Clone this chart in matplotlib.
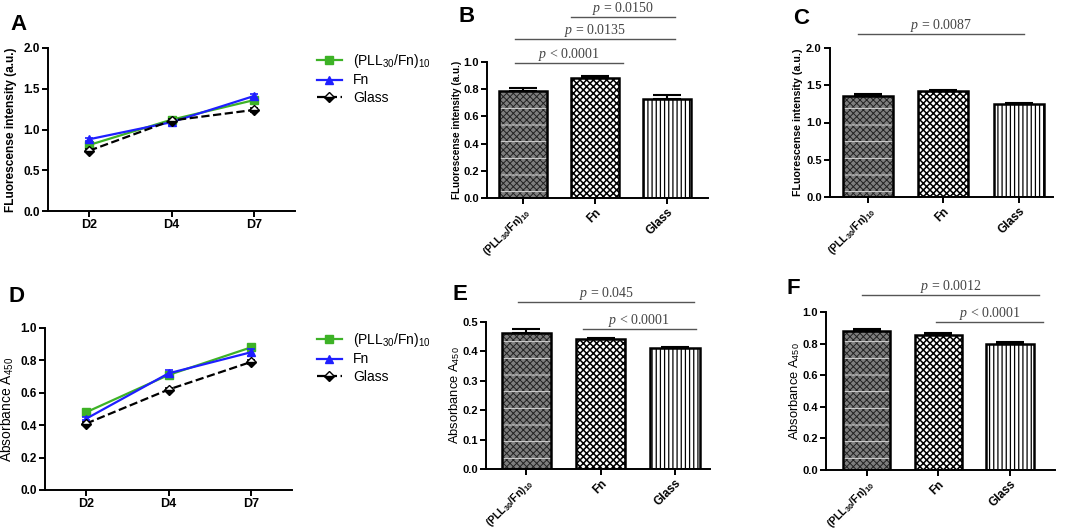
import matplotlib
matplotlib.use('Agg')
import matplotlib.pyplot as plt
import numpy as np

plt.rcParams['font.family'] = ['Liberation Sans', 'DejaVu Sans']
plt.rcParams['mathtext.fontset'] = 'custom'
plt.rcParams['mathtext.rm'] = 'Liberation Sans'
plt.rcParams['mathtext.bf'] = 'Liberation Sans:bold'
plt.rcParams['mathtext.it'] = 'Liberation Serif:italic'

# ---- data ----
days = ['D2', 'D4', 'D7']
groups = [r'(PLL$_{\mathbf{30}}$/Fn)$_{\mathbf{10}}$', 'Fn', 'Glass']
legend_names = [r'(PLL$_{30}$/Fn)$_{10}$', 'Fn', 'Glass']

a_pll = [0.81, 1.12, 1.36]
a_pll_err = [0.03, 0.02, 0.02]
a_fn = [0.88, 1.09, 1.41]
a_fn_err = [0.02, 0.03, 0.02]
a_glass = [0.74, 1.11, 1.24]
a_glass_err = [0.02, 0.02, 0.02]

d_pll = [0.48, 0.71, 0.88]
d_pll_err = [0.01, 0.01, 0.01]
d_fn = [0.44, 0.72, 0.85]
d_fn_err = [0.01, 0.02, 0.02]
d_glass = [0.41, 0.62, 0.79]
d_glass_err = [0.01, 0.01, 0.01]

b_vals = [0.785, 0.885, 0.725]
b_err = [0.025, 0.01, 0.03]
c_vals = [1.36, 1.42, 1.25]
c_err = [0.02, 0.02, 0.015]
e_vals = [0.462, 0.442, 0.41]
e_err = [0.013, 0.005, 0.005]
f_vals = [0.882, 0.855, 0.797]
f_err = [0.01, 0.015, 0.015]

# significance bars: (from, to, height, label)
b_sig = [(-0.11, 1.39, 0.99, r'$p$ < 0.0001'),
         (-0.11, 2.11, 1.17, r'$p$ = 0.0135'),
         (0.67, 2.11, 1.33, r'$p$ = 0.0150')]
c_sig = [(-0.13, 2.07, 2.19, r'$p$ = 0.0087')]
e_sig = [(-0.11, 2.26, 0.568, r'$p$ = 0.045'),
         (0.76, 2.28, 0.476, r'$p$ < 0.0001')]
f_sig = [(-0.06, 2.4, 1.107, r'$p$ = 0.0012'),
         (0.97, 2.46, 0.937, r'$p$ < 0.0001')]

W, H = 1072, 530
fig = plt.figure(figsize=(W / 100, H / 100), dpi=100)


def box(l, t, r, b):
    return [l / W, 1 - b / H, (r - l) / W, (b - t) / H]


def style_axes(ax, fs):
    for s in ['top', 'right']:
        ax.spines[s].set_visible(False)
    for s in ['left', 'bottom']:
        ax.spines[s].set_linewidth(1.4)
    ax.tick_params(width=1.4, length=4, pad=2)
    ax.tick_params(axis='y', labelsize=fs)
    for lab in ax.get_yticklabels():
        lab.set_fontweight('bold')


def line_panel(rect, series, ylim, yticks, ylabel, ylfs, ylw, ylx, leg_pos):
    ax = fig.add_axes(box(*rect))
    x = np.arange(len(days))
    styles = [dict(color='#3db226', marker='s', ls='-', mfc='#3db226', mec='#3db226', ms=6),
              dict(color='#1f1fff', marker='^', ls='-', mfc='#1f1fff', mec='#1f1fff', ms=6),
              dict(color='black', marker='D', ls='--', mfc='black', mfcalt='white',
                   fillstyle='bottom', mec='black', ms=5)]
    handles = []
    for (vals, err), st in zip(series, styles):
        ax.errorbar(x, vals, yerr=err, fmt='none', ecolor=st['color'], capsize=3,
                    elinewidth=1.2, capthick=1.2)
        h, = ax.plot(x, vals, lw=1.6, **st)
        handles.append(h)
    ax.set_xlim(-0.5, 2.5)
    ax.set_ylim(*ylim)
    ax.set_yticks(yticks)
    ax.set_xticks(x)
    style_axes(ax, 8.5)
    ax.set_xticklabels(days, fontweight='bold', fontsize=9)
    ax.set_ylabel(ylabel, fontsize=ylfs, fontweight=ylw)
    ax.yaxis.set_label_coords(ylx, 0.5)
    ax.legend(handles, legend_names, loc='upper left',
              bbox_to_anchor=(leg_pos[0] / W, 1 - leg_pos[1] / H),
              bbox_transform=fig.transFigure, frameon=False, fontsize=10, handlelength=1.8,
              labelspacing=0.25, borderpad=0)
    return ax


def bar_panel(rect, vals, err, ylim, yticks, ylabel, ylfs, ylw, ylx, sigs, xlim):
    ax = fig.add_axes(box(*rect))
    x = np.arange(len(groups))
    wd = 0.66
    # hatched fills
    with plt.rc_context({'hatch.linewidth': 0.7}):
        ax.bar(x[0], vals[0], wd, color='#7e7e7e', edgecolor='#222222', hatch='xxxxx', lw=0)
        ax.bar(x[0], vals[0], wd, color='none', edgecolor='#e0e0e0', hatch='-', lw=0)
    with plt.rc_context({'hatch.linewidth': 1.1}):
        ax.bar(x[1], vals[1], wd, color='white', edgecolor='black', hatch='xxxxx', lw=0)
    with plt.rc_context({'hatch.linewidth': 0.9}):
        ax.bar(x[2], vals[2], wd, color='white', edgecolor='black', hatch='||||', lw=0)
    ax.bar(x, vals, wd, color='none', edgecolor='black', lw=1.8, zorder=3)
    ax.errorbar(x, vals, yerr=[[0] * len(err), err], fmt='none', ecolor='black',
                elinewidth=1.5, capsize=10, capthick=1.5, zorder=2)
    ax.set_xlim(*xlim)
    ax.set_ylim(*ylim)
    ax.set_yticks(yticks)
    ax.set_xticks(x)
    style_axes(ax, 8)
    labs = ax.set_xticklabels(groups, rotation=45, ha='right', rotation_mode='anchor',
                              fontweight='bold', fontsize=8.5)
    labs[0].set_fontsize(7.6)
    ax.set_ylabel(ylabel, fontsize=ylfs, fontweight=ylw)
    ax.yaxis.set_label_coords(ylx, 0.5)
    for x0, x1, yy, txt in sigs:
        ax.plot([x0, x1], [yy, yy], color='#555555', lw=1.0, clip_on=False)
        ax.text((x0 + x1) / 2, yy, txt, ha='center', va='bottom', fontsize=10,
                family='Liberation Serif', color='#444444', clip_on=False)
    return ax


line_panel((48, 48, 295, 211),
           [(a_pll, a_pll_err), (a_fn, a_fn_err), (a_glass, a_glass_err)],
           (0, 2.0), [0, 0.5, 1.0, 1.5, 2.0], 'FLuorescense intensity (a.u.)', 8.6, 'bold',
           -0.125, (310, 45))
line_panel((45, 328, 292, 490),
           [(d_pll, d_pll_err), (d_fn, d_fn_err), (d_glass, d_glass_err)],
           (0, 1.0), [0, 0.2, 0.4, 0.6, 0.8, 1.0], r'Absorbance A$_{450}$', 10, 'normal',
           -0.117, (310, 324))

bar_panel((487, 62, 708, 198), b_vals, b_err, (0, 1.0), [0, 0.2, 0.4, 0.6, 0.8, 1.0],
          'FLuorescense intensity (a.u.)', 7.2, 'bold', -0.113, b_sig, (-0.5, 2.57))
bar_panel((830, 48, 1053, 197), c_vals, c_err, (0, 2.0), [0, 0.5, 1.0, 1.5, 2.0],
          'FLuorescense intensity (a.u.)', 7.7, 'bold', -0.121, c_sig, (-0.5, 2.45))
bar_panel((486, 322, 710, 469), e_vals, e_err, (0, 0.5), [0, 0.1, 0.2, 0.3, 0.4, 0.5],
          r'Absorbance A$_{450}$', 9.3, 'normal', -0.107, e_sig, (-0.54, 2.47))
bar_panel((826, 312, 1055, 470), f_vals, f_err, (0, 1.0), [0, 0.2, 0.4, 0.6, 0.8, 1.0],
          r'Absorbance A$_{450}$', 9.3, 'normal', -0.105, f_sig, (-0.57, 2.63))

# panel letters
for letter, px, py in [('A', 10, 24), ('B', 458, 16), ('C', 793, 18),
                       ('D', 8, 296), ('E', 453, 294), ('F', 787, 289)]:
    fig.text(px / W, 1 - py / H, letter, fontsize=16, fontweight='bold', va='center', ha='left')

fig.savefig('out.png', dpi=100)
